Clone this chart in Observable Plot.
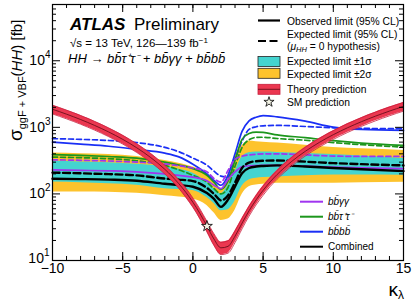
<!DOCTYPE html>
<html><head><meta charset="utf-8">
<script src="https://cdn.jsdelivr.net/npm/d3@7"></script>
<script src="https://cdn.jsdelivr.net/npm/@observablehq/plot@0.6"></script>
<style>body{margin:0;background:#fff}svg{display:block}</style>
</head><body><div id="chart"></div>
<script>
// ---- data ----
const kappa = [-10,-8,-6,-4,-2,-1,0,1,1.5,2,2.5,3,3.5,4,4.5,5,6,8,10,12,15];
const combObs  = [169,167,164,158,142,136,128,103,84,64,82,130,205,245,258,263,268,258,245,235,220];
const combExp  = [209,204,198,190,170,164,156,123,100,80,95,148,245,295,310,315,318,305,290,280,268];
const exp1Hi   = [309,302,295,280,258,235,205,150,120,100,135,218,360,415,425,425,420,405,390,370,340];
const exp1Lo   = [151,147,142,135,120,117,113,88,72,56,58,78,130,162,172,177,180,188,192,192,190];
const exp2Hi   = [410,400,390,365,318,290,253,200,150,113,195,370,530,625,610,595,580,540,500,475,450];
const exp2Lo   = [107,107,106,102,94,90,84,67,52,40,42,57,98,128,136,140,145,145,145,147,150];
const bbbbObs  = [600,560,520,465,410,360,280,200,160,135,190,400,870,1250,1420,1500,1440,1240,1010,930,900];
const bbbbExp  = [677,660,635,590,500,430,345,270,220,185,180,330,620,930,1020,1055,1070,1030,985,965,955];
const bbttObs  = [390,380,365,345,300,272,240,190,150,117,155,320,660,810,850,840,770,700,630,580,537];
const bbttExp  = [357,350,338,315,268,230,190,150,120,100,125,260,500,650,705,710,680,640,590,550,505];
const bbyyObs  = [230,226,222,215,200,190,179,158,135,120,165,215,255,265,267,268,268,262,252,247,240];
const bbyyExp  = [325,320,312,300,283,265,245,215,170,150,225,330,370,385,395,400,400,385,370,366,366];

const theoryK = [-10,-9.5,-9,-8.5,-8,-7.5,-7,-6.5,-6,-5.5,-5,-4.5,-4,-3.5,-3,-2.5,-2,-1.5,-1,-0.5,0,0.5,1,1.5,2,2.5,3,3.5,4,4.5,5,5.5,6,6.5,7,7.5,8,8.5,9,9.5,10,10.5,11,11.5,12,12.5,13,13.5,14,14.5,15];
const theory  = [1868.6,1719.6,1577.0,1440.5,1310.3,1186.4,1068.6,957.1,851.9,752.8,660.0,573.5,493.1,419.0,351.2,289.6,234.2,185.0,142.1,105.4,75.0,50.8,32.8,21.0,15.5,16.3,23.2,36.4,55.9,81.5,113.4,151.6,195.9,246.5,303.4,366.5,435.8,511.3,593.1,681.1,775.4,875.9,982.6,1095.5,1214.7,1340.2,1471.8,1609.7,1753.9,1904.2,2060.8];
const theoryErrPct = [15,15,15,15,15,15,15,15,15,15,15,15,15,15,15,15,15,15,15,16,16,17,18,20,21,21,20,18,17,16,16,15,15,15,15,15,15,15,15,15,15,15,15,15,15,15,15,15,15,15,15];
const smPoint = {k: 1, v: 32.8};

const xMajor = [-10,-5,0,5,10,15];
const xMinor = d3.range(-10, 16, 1);
const yMajor = [10,100,1000,10000];
const yMinor = [];
for (const dec of [10,100,1000,10000]) for (let m = 2; m <= 9; m++) if (m*dec <= 70000) yMinor.push(m*dec);

// ---- styles ----
const W = 415, H = 302, mL = 52, mR = 12, mT = 4, mB = 42;
const plotW = W - mL - mR, plotH = H - mT - mB;
const C = {yellow:"#fdc32d", cyan:"#44d4d0", red:"#eb3750", redEdge:"#c81e3c", blue:"#1a2ff5", green:"#1c961c", purple:"#a035ef"};
const curve = "monotone-x";

const limits = kappa.map((k,i) => ({k, e2lo: exp2Lo[i], e2hi: exp2Hi[i], e1lo: exp1Lo[i], e1hi: exp1Hi[i]}));
const th = theoryK.map((k,i) => ({k, v: theory[i], lo: theory[i]*(1-theoryErrPct[i]/100), hi: theory[i]*(1+theoryErrPct[i]/100)}));
const ser = arr => kappa.map((k,i) => ({k, v: arr[i]}));
const lineMark = (arr, stroke, width, dash) => Plot.line(ser(arr), {x:"k", y:"v", stroke, strokeWidth: width, strokeDasharray: dash, curve});

const chart = Plot.plot({
  width: W, height: H, marginLeft: mL, marginRight: mR, marginTop: mT, marginBottom: mB,
  style: {fontFamily: "'Liberation Sans', Arial, sans-serif", fontSize: "14px", background: "white", color: "black", overflow: "visible"},
  x: {domain: [-10, 15], ticks: xMajor, tickSize: 0, tickPadding: 3, label: null,
      tickFormat: d => d < 0 ? "\u2212" + Math.abs(d) : String(d)},
  y: {type: "log", domain: [10, 70000], ticks: yMajor, tickSize: 0, tickPadding: 2, label: null,
      tickFormat: d => "10^" + Math.round(Math.log10(d))},
  marks: [
    Plot.areaY(limits, {x:"k", y1:"e2lo", y2:"e2hi", fill: C.yellow, curve}),
    Plot.areaY(limits, {x:"k", y1:"e1lo", y2:"e1hi", fill: C.cyan, curve}),
    lineMark(bbbbExp, C.blue, 1.7, "5,3"),
    lineMark(bbbbObs, C.blue, 1.7, null),
    lineMark(bbttExp, C.green, 1.7, "5,3"),
    lineMark(bbttObs, C.green, 1.7, null),
    lineMark(bbyyExp, C.purple, 1.7, "5,3"),
    lineMark(bbyyObs, C.purple, 1.7, null),
    lineMark(combExp, "black", 2.4, "7,3.5"),
    lineMark(combObs, "black", 2.4, null),
    Plot.areaY(th, {x:"k", y1:"lo", y2:"hi", fill: C.red, curve}),
    Plot.line(th, {x:"k", y:"lo", stroke: C.redEdge, strokeWidth: 0.8, curve}),
    Plot.line(th, {x:"k", y:"hi", stroke: C.redEdge, strokeWidth: 0.8, curve}),
    Plot.line(th, {x:"k", y:"v", stroke: "#5a0a14", strokeWidth: 0.8, curve}),
    Plot.dot([smPoint], {x:"k", y:"v", symbol:"star", r: 3.4, fill:"#f2f2e4", stroke:"black", strokeWidth: 0.8}),
    // inward ticks on all four sides
    Plot.tickX(xMinor, {x: d => d, insetTop: plotH - 4, stroke: "black"}),
    Plot.tickX(xMajor, {x: d => d, insetTop: plotH - 8, stroke: "black"}),
    Plot.tickX(xMinor, {x: d => d, insetBottom: plotH - 4, stroke: "black"}),
    Plot.tickX(xMajor, {x: d => d, insetBottom: plotH - 8, stroke: "black"}),
    Plot.tickY(yMinor, {y: d => d, insetRight: plotW - 4, stroke: "black"}),
    Plot.tickY(yMajor, {y: d => d, insetRight: plotW - 8, stroke: "black"}),
    Plot.tickY(yMinor, {y: d => d, insetLeft: plotW - 4, stroke: "black"}),
    Plot.tickY(yMajor, {y: d => d, insetLeft: plotW - 8, stroke: "black"}),
    Plot.frame({stroke: "black", strokeWidth: 1.2})
  ]
});
document.getElementById("chart").appendChild(chart);

const svg = d3.select(chart);
// superscript exponents on the y tick labels
svg.selectAll("text").each(function() {
  const m = /^10\^(\d)$/.exec(this.textContent);
  if (!m) return;
  const t = d3.select(this);
  t.text("10");
  if (m[1] === "1") t.attr("transform", (t.attr("transform") || "") + " translate(-1,-2)");
  t.append("tspan").attr("dy", "-7").attr("font-size", "10px").text(m[1]);
});

const FF = "'Liberation Sans', Arial, sans-serif";
const txt = (x, y, size, opts = {}) => svg.append("text").attr("x", x).attr("y", y)
  .attr("font-family", FF).attr("font-size", size)
  .attr("font-style", opts.italic ? "italic" : null).attr("font-weight", opts.bold ? "bold" : null)
  .attr("text-anchor", opts.anchor || "start").attr("fill", "black");

// Titles
txt(70, 30, 17, {bold: true, italic: true}).text("ATLAS");
txt(134, 30, 17).text("Preliminary");
const l1 = txt(70, 47, 11.5);
l1.append("tspan").text("\u221As = 13 TeV, 126\u2014139 fb");
l1.append("tspan").attr("dy", -4.5).attr("font-size", 8).text("\u22121");
const l2 = txt(68, 63, 13, {italic: true});
l2.text("HH \u2192 bb\u0304\u03C4\u207A\u03C4\u207B + bb\u0304\u03B3\u03B3 + bb\u0304bb\u0304");

// axis titles
const yt = svg.append("text").attr("transform", "translate(22,141) rotate(-90)")
  .attr("font-family", FF).attr("font-size", 15).attr("text-anchor", "start");
yt.append("tspan").attr("font-size", 19).text("\u03C3");
yt.append("tspan").attr("font-size", 11).attr("dy", 4).text("ggF + VBF");
yt.append("tspan").attr("dy", -4).text("(");
yt.append("tspan").attr("font-style", "italic").text("HH");
yt.append("tspan").text(") [fb]");

const xt = txt(404, 296, 19, {anchor: "end"});
xt.append("tspan").text("\u03BA");
xt.append("tspan").attr("font-size", 12).attr("dy", 3).text("\u03BB");

// Legend (top right)
const LX1 = 258, LX2 = 280, TX = 287, FS = 10.3;
const legLine = (y, color, w, dash) => svg.append("line").attr("x1", LX1).attr("x2", LX2).attr("y1", y).attr("y2", y)
  .attr("stroke", color).attr("stroke-width", w).attr("stroke-dasharray", dash);
const legBox = (y, fill, stroke) => svg.append("rect").attr("x", LX1).attr("y", y - 5).attr("width", LX2 - LX1).attr("height", 10)
  .attr("fill", fill).attr("stroke", stroke).attr("stroke-width", 0.8);

legLine(20.5, "black", 2.2, null);
txt(TX, 24.5, FS).text("Observed limit (95% CL)");
legLine(41, "black", 2.2, "8,3.5");
txt(TX, 37.8, FS).text("Expected limit (95% CL)");
const mu = txt(TX, 49.8, FS);
mu.append("tspan").text("(");
mu.append("tspan").attr("font-style", "italic").text("\u03BC");
mu.append("tspan").attr("font-style", "italic").attr("font-size", 7.5).attr("dy", 2).text("HH");
mu.append("tspan").attr("dy", -2).text(" = 0 hypothesis)");
legBox(61.5, C.cyan, "#222");
txt(TX, 64.8, FS).text("Expected limit \u00B11\u03C3");
legBox(73.3, C.yellow, "#222");
txt(TX, 77.8, FS).text("Expected limit \u00B12\u03C3");
legBox(89.3, C.red, C.redEdge);
legLine(89.3, "#5a0a14", 0.8, null);
txt(TX, 92.8, FS).text("Theory prediction");
svg.append("path").attr("d", d3.symbol(d3.symbolStar, 32)())
  .attr("transform", "translate(269,102)").attr("fill", "#f2f2e4").attr("stroke", "black").attr("stroke-width", 0.8);
txt(TX, 105.8, FS).text("SM prediction");

// Legend (channels)
const CX1 = 300, CX2 = 323, CTX = 328, CFS = 10;
const chLine = (y, color) => svg.append("line").attr("x1", CX1).attr("x2", CX2).attr("y1", y).attr("y2", y)
  .attr("stroke", color).attr("stroke-width", 2);
chLine(201.7, C.purple);
txt(CTX, 205, CFS, {italic: true}).text("bb\u0304\u03B3\u03B3");
chLine(216.7, C.green);
txt(CTX, 220, CFS, {italic: true}).text("bb\u0304\u03C4\u207A\u03C4\u207B");
chLine(231.7, C.blue);
txt(CTX, 235, CFS, {italic: true}).text("bb\u0304bb\u0304");
chLine(246.7, "black");
txt(CTX, 250, CFS).text("Combined");
</script>
</body></html>
